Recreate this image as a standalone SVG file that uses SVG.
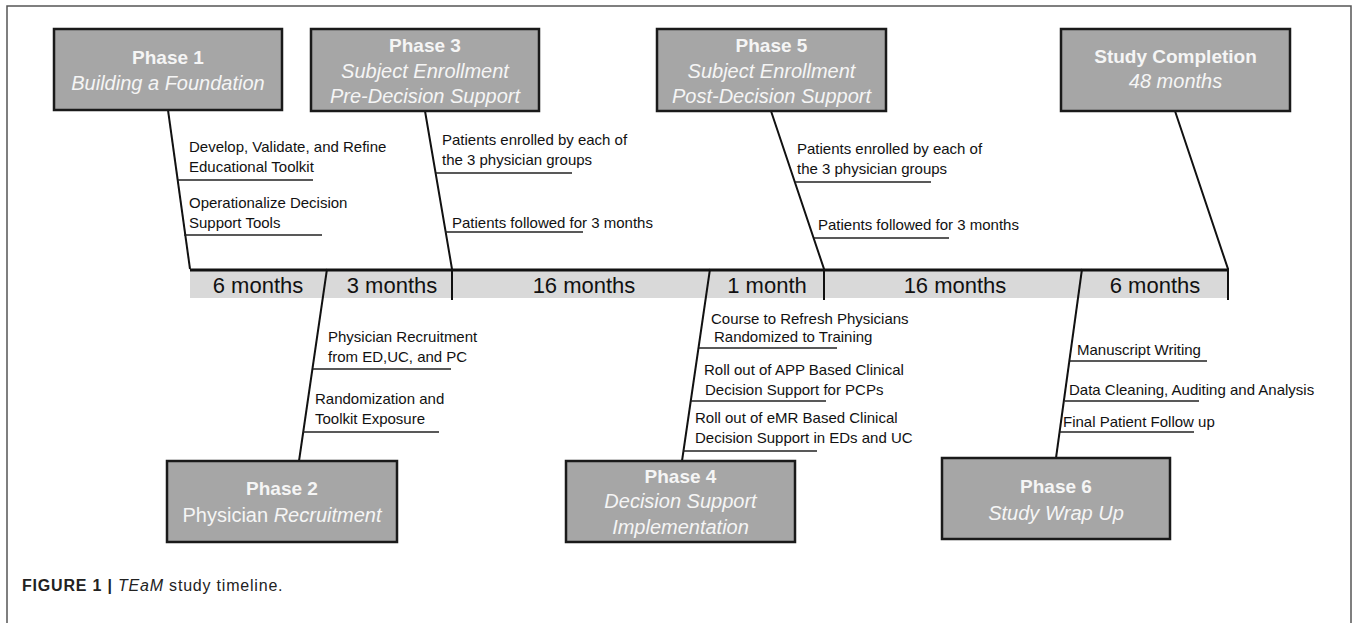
<svg xmlns="http://www.w3.org/2000/svg" width="1357" height="623" viewBox="0 0 1357 623">
<style>
.frame{fill:none;stroke:#555;stroke-width:1.5}
.box{fill:#a6a6a6;stroke:#1a1a1a;stroke-width:2.5}
.bt{font-family:"Liberation Sans",Arial,sans-serif;fill:#f5f5f5;text-anchor:middle}
.b{font-weight:bold;font-size:19px}
.i{font-style:italic;font-size:20px}
.r{font-size:20px}
.lbl{font-family:"Liberation Sans",Arial,sans-serif;font-size:15px;fill:#111}
.ul{stroke:#222;stroke-width:1.6}
.conn{stroke:#111;stroke-width:2;fill:none}
.band{fill:#d9d9d9}
.axis{stroke:#111;stroke-width:3}
.bl{font-family:"Liberation Sans",Arial,sans-serif;font-size:22px;fill:#111;text-anchor:middle}
.cap{font-family:"Liberation Sans",Arial,sans-serif;font-size:16px;fill:#222;letter-spacing:0.8px}
</style>
<rect width="1357" height="623" fill="#fff"/>
<path class="frame" d="M7,623 V6 H1351 V623"/>

<g id="timeline">
<rect class="band" x="190" y="271" width="1038" height="27"/>
<line class="axis" x1="190" y1="270" x2="1229" y2="270"/>
<text class="bl" x="258" y="293">6 months</text>
<text class="bl" x="392" y="293">3 months</text>
<text class="bl" x="584" y="293">16 months</text>
<text class="bl" x="767" y="293">1 month</text>
<text class="bl" x="955" y="293">16 months</text>
<text class="bl" x="1155" y="293">6 months</text>
</g>

<g id="connectors">
<path class="conn" d="M168,110 L190,269"/>
<path class="conn" d="M425,111 L452,269 V300"/>
<path class="conn" d="M771,111 L824,269 V300"/>
<path class="conn" d="M1175,111 L1228,269 V300"/>
<path class="conn" d="M327,269 L299,461"/>
<path class="conn" d="M710,269 L682,461"/>
<path class="conn" d="M1082,269 L1056,458"/>
</g>

<g id="phase1">
<rect class="box" x="54" y="29" width="228" height="81"/>
<text class="bt b" x="168" y="64">Phase 1</text>
<text class="bt i" x="168" y="90">Building a Foundation</text>
</g>
<g id="phase1-items">
<text class="lbl" x="189" y="152">Develop, Validate, and Refine</text>
<text class="lbl" x="189" y="172">Educational Toolkit</text>
<line class="ul" x1="178" y1="180" x2="313" y2="180"/>
<text class="lbl" x="189" y="208">Operationalize Decision</text>
<text class="lbl" x="189" y="228">Support Tools</text>
<line class="ul" x1="184" y1="235" x2="322" y2="235"/>
</g>

<g id="phase3">
<rect class="box" x="311" y="29" width="228" height="82"/>
<text class="bt b" x="425" y="52">Phase 3</text>
<text class="bt i" x="425" y="78">Subject Enrollment</text>
<text class="bt i" x="425" y="103">Pre-Decision Support</text>
</g>
<g id="phase3-items">
<text class="lbl" x="442" y="145">Patients enrolled by each of</text>
<text class="lbl" x="442" y="165">the 3 physician groups</text>
<line class="ul" x1="436" y1="173" x2="572" y2="173"/>
<text class="lbl" x="452" y="228">Patients followed for 3 months</text>
<line class="ul" x1="445" y1="232" x2="583" y2="232"/>
</g>

<g id="phase5">
<rect class="box" x="657" y="29" width="229" height="82"/>
<text class="bt b" x="771.5" y="52">Phase 5</text>
<text class="bt i" x="771.5" y="78">Subject Enrollment</text>
<text class="bt i" x="771.5" y="103">Post-Decision Support</text>
</g>
<g id="phase5-items">
<text class="lbl" x="797" y="154">Patients enrolled by each of</text>
<text class="lbl" x="797" y="174">the 3 physician groups</text>
<line class="ul" x1="795" y1="182" x2="931" y2="182"/>
<text class="lbl" x="818" y="230">Patients followed for 3 months</text>
<line class="ul" x1="814" y1="238" x2="949" y2="238"/>
</g>

<g id="completion">
<rect class="box" x="1061" y="29" width="229" height="82"/>
<text class="bt b" x="1175.5" y="63">Study Completion</text>
<text class="bt i" x="1175.5" y="88">48 months</text>
</g>

<g id="phase2">
<rect class="box" x="167" y="461" width="230" height="81"/>
<text class="bt b" x="282" y="495">Phase 2</text>
<text class="bt r" x="282" y="522">Physician <tspan font-style="italic">Recruitment</tspan></text>
</g>
<g id="phase2-items">
<text class="lbl" x="328" y="342">Physician Recruitment</text>
<text class="lbl" x="328" y="362">from ED,UC, and PC</text>
<line class="ul" x1="313" y1="369" x2="451" y2="369"/>
<text class="lbl" x="315" y="404">Randomization and</text>
<text class="lbl" x="315" y="424">Toolkit Exposure</text>
<line class="ul" x1="303" y1="432" x2="439" y2="432"/>
</g>

<g id="phase4">
<rect class="box" x="566" y="461" width="229" height="81"/>
<text class="bt b" x="680.5" y="483">Phase 4</text>
<text class="bt i" x="680.5" y="508">Decision Support</text>
<text class="bt i" x="680.5" y="534">Implementation</text>
</g>
<g id="phase4-items">
<text class="lbl" x="711" y="324">Course to Refresh Physicians</text>
<text class="lbl" x="714" y="342">Randomized to Training</text>
<line class="ul" x1="699" y1="348" x2="837" y2="348"/>
<text class="lbl" x="704" y="375">Roll out of APP Based Clinical</text>
<text class="lbl" x="705" y="395">Decision Support for PCPs</text>
<line class="ul" x1="691" y1="401" x2="826" y2="401"/>
<text class="lbl" x="695" y="423">Roll out of eMR Based Clinical</text>
<text class="lbl" x="695" y="443">Decision Support in EDs and UC</text>
<line class="ul" x1="683" y1="451" x2="817" y2="451"/>
</g>

<g id="phase6">
<rect class="box" x="942" y="458" width="228" height="81"/>
<text class="bt b" x="1056" y="493">Phase 6</text>
<text class="bt i" x="1056" y="520">Study Wrap Up</text>
</g>
<g id="phase6-items">
<text class="lbl" x="1077" y="355">Manuscript Writing</text>
<line class="ul" x1="1070" y1="361" x2="1207" y2="361"/>
<text class="lbl" x="1069" y="395">Data Cleaning, Auditing and Analysis</text>
<line class="ul" x1="1065" y1="401" x2="1199" y2="401"/>
<text class="lbl" x="1063" y="427">Final Patient Follow up</text>
<line class="ul" x1="1060" y1="432" x2="1194" y2="432"/>
</g>

<text class="cap" x="22" y="591"><tspan font-weight="bold">FIGURE 1 | </tspan><tspan font-style="italic">TEaM</tspan> study timeline.</text>
</svg>
